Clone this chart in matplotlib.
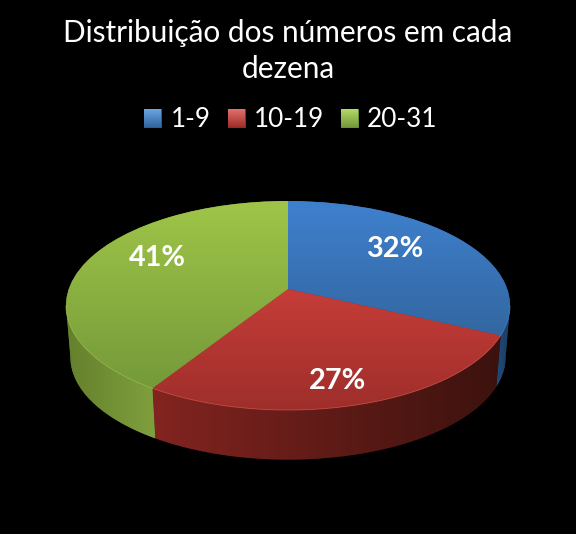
import matplotlib
matplotlib.use('Agg')
import matplotlib.pyplot as plt
import matplotlib.transforms as mtrans
from matplotlib.patches import Patch, Polygon
import numpy as np

# data
title = 'Distribuição dos números em cada\ndezena'
groups = ['1-9', '10-19', '20-31']
shares = [32, 27, 41]

# colours, (start, end) of each gradient
face_hex = ['#3A76BE', '#B43532', '#8AB042']
face_grad = [('#3F80CE', '#32669F'), ('#C63D38', '#9E2E2B'), ('#9FC548', '#74993A')]
side_grad = [('#214B78', '#1A3C60'), ('#832420', '#3C120E'), ('#80A03E', '#64802C')]
rim_col = ['#4C8AD0', '#D85A50', '#A4C858']
key_top = ['#6CA4E6', '#E4706A', '#B4DA68']
# top and bottom of the gradient on each slice, pixels
face_span = [(201, 340), (289, 410), (201, 390)]

# where the perspective puts the disc, in pixels
cx, cy = 288., 289.
rx, ry, k = 219.2, 101.9, 0.158
depth, shrink = 52., 0.98
label_xy = [(395, 249), (338, 381), (157, 258)]


class Persp(mtrans.Transform):
    ''' unit circle to the tilted disc, in pixel coords '''
    input_dims = 2
    output_dims = 2

    def transform_non_affine(self, values):
        values = np.asarray(values, dtype=float)
        w = 1. + k*values[:, 1]
        return np.column_stack((cx + rx*values[:, 0]/w, cy - ry*values[:, 1]/w))


def rim(a0, a1, lower=False):
    ''' edge of the disc between two clockwise angles from 12 o'clock '''
    a = np.radians(np.linspace(a0, a1, 80))
    xy = Persp().transform_non_affine(np.column_stack((np.sin(a), np.cos(a))))
    if lower:
        xy[:, 0] = cx + (xy[:, 0]-cx)*shrink
        xy[:, 1] = cy + depth + (xy[:, 1]-cy)*shrink
    return xy


def gradient(col0, col1, box, clip=None, vertical=True, zorder=6):
    ''' gradient image inside box (l,r,top,bottom), clipped to a patch '''
    c0 = np.array(matplotlib.colors.to_rgb(col0))
    c1 = np.array(matplotlib.colors.to_rgb(col1))
    t = np.linspace(0, 1, 256)[:, None]
    img = c0 + (c1-c0)*t
    img = img[:, None, :] if vertical else img[None, :, :]
    if clip is not None:
        zorder = clip.get_zorder()+0.1
    im = ax.imshow(img, extent=(box[0], box[1], box[3], box[2]), aspect='auto',
                   interpolation='bilinear', zorder=zorder)
    if clip is not None:
        im.set_clip_path(clip)
    return im


fig = plt.figure(figsize=(5.76, 5.34), dpi=100, facecolor='black')
ax = fig.add_axes([0, 0, 1, 1])

wedges, _ = ax.pie(shares, colors=face_hex, startangle=90, counterclock=False, radius=1)

ax.set_aspect('auto')
ax.set_frame_on(False)

# angles of the slices and of the left/right silhouette of the disc
edges = np.cumsum([0]+shares)*3.6
a_right = np.degrees(np.arccos(-k))
a_left = 360.-a_right

# side wall, only the part facing us
for i in range(3):
    a0 = max(edges[i], a_right)
    a1 = min(edges[i+1], a_left)
    top_edge = rim(a0, a1)
    low_edge = rim(a0, a1, lower=True)
    wall = Polygon(np.vstack((top_edge, low_edge[::-1])), closed=True, fc=side_grad[i][1],
                   ec='none', zorder=1)
    ax.add_patch(wall)
    # green runs light to dark from the left, the others as well
    x0, x1 = min(top_edge[:, 0].min(), low_edge[:, 0].min()), max(top_edge[:, 0].max(), low_edge[:, 0].max())
    c0, c1 = side_grad[i]
    if i == 2:
        c0, c1 = c1, c0
    gradient(c0, c1, (x0, x1, 190, 470), wall, vertical=False)

# top face
persp = Persp()
for i, w in enumerate(wedges):
    w.set_transform(persp + ax.transData)
    w.set_zorder(3)
    gradient(face_grad[i][0], face_grad[i][1], (60, 515, face_span[i][0], face_span[i][1]), w)
    if i != 1:
        # the image stops at its span, the wedge colour must not show below it
        w.set_facecolor(face_grad[i][1])

# thin highlight on the front edge
for i in range(3):
    a0 = max(edges[i], a_right)
    a1 = min(edges[i+1], a_left)
    xy = rim(a0, a1)
    ax.plot(xy[:, 0], xy[:, 1], color=rim_col[i], lw=0.6, alpha=0.7, zorder=4)

for s, xy in zip(shares, label_xy):
    ax.text(xy[0], xy[1], '%d%%' % s, color='white', family='Lato', weight='bold', fontsize=20.8,
            ha='center', va='center', zorder=7)

ax.text(288, 51, title, color='white', family='Lato', fontsize=21.4, ha='center', va='center',
        linespacing=1.36)

handles = [Patch(facecolor=face_hex[i], edgecolor=face_grad[i][1], lw=0.6) for i in range(3)]
leg = ax.legend(handles, groups, ncol=3, frameon=False, loc='center', bbox_to_anchor=(291./576., 1-119.5/534.),
                prop={'family': 'Lato', 'size': 18.8}, labelcolor='white', handlelength=0.65, handleheight=0.65,
                handletextpad=0.35, columnspacing=0.65, borderpad=0, borderaxespad=0)

# lighter top on the legend keys
fig.canvas.draw()
for i, h in enumerate(leg.legend_handles):
    bb = h.get_window_extent()
    gradient(key_top[i], face_grad[i][1], (bb.x0, bb.x1, 534-bb.y1, 534-bb.y0))

ax.set_xlim(0, 576)
ax.set_ylim(534, 0)

plt.savefig('out.png', dpi=100, facecolor='black')
